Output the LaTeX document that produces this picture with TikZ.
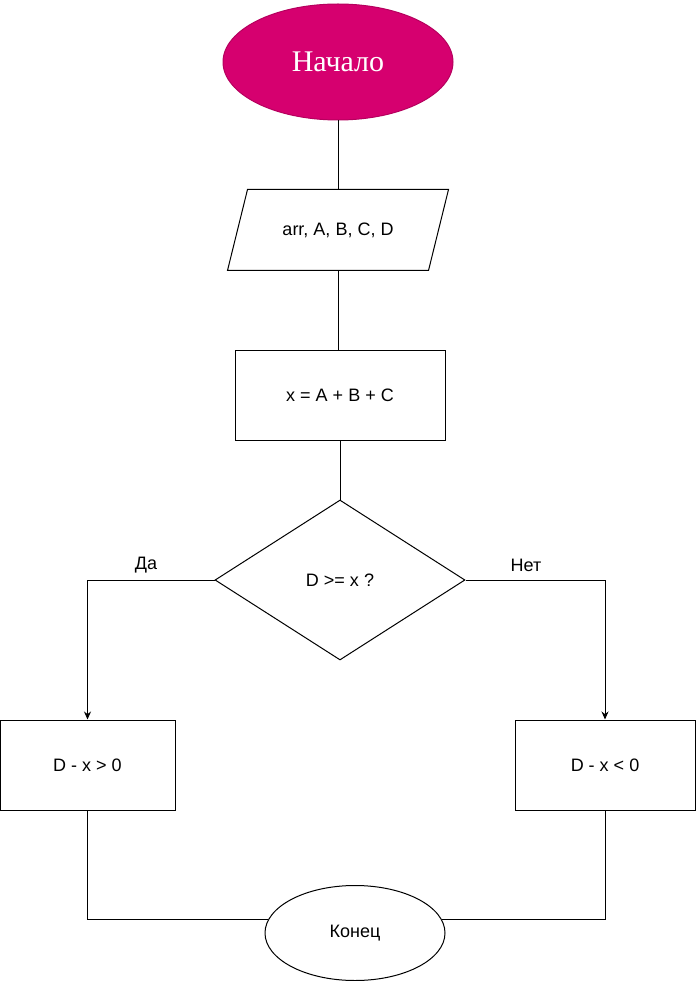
\documentclass[tikz,border=0pt]{standalone}
\usepackage{fontspec}
\setmainfont{Liberation Sans}
\newfontfamily\serifru{Liberation Serif}
\usetikzlibrary{shapes.geometric,arrows.meta}
\definecolor{startmag}{RGB}{214,0,111}
\tikzset{
  base/.style={line width=1pt, draw=black, inner sep=0pt, font=\fontsize{18}{21}\selectfont},
  termstart/.style={base, ellipse, fill=startmag, draw=startmag!85!black, text=white, font=\serifru\fontsize{30}{34}\selectfont},
  termend/.style={base, ellipse},
  procbox/.style={base, rectangle},
  decbox/.style={base, diamond, aspect=1.5625},
  conn/.style={line width=1pt, draw=black},
  arr/.style={conn, -{Stealth[length=8pt,width=7pt]}},
  lbl/.style={inner sep=0pt, font=\fontsize{18}{21}\selectfont}
}
\begin{document}
\begin{tikzpicture}[x=1pt,y=-1pt]
\useasboundingbox[fill=white] (0,0) rectangle (697,981);
\node[termstart, minimum width=230, minimum height=116] (start) at (338,62) {Начало};
\node[base, draw=none, rectangle, minimum width=220, minimum height=80] (io) at (338,230) {arr, A, B, C, D};
\draw[conn] ([xshift=20pt]io.north west) -- (io.north east) -- ([xshift=-20pt]io.south east) -- (io.south west) -- cycle;
\node[procbox, minimum width=210, minimum height=90] (calc) at (340,395) {x = A + B + C};
\node[decbox, minimum width=250, minimum height=160] (dec) at (340,580) {D >= x ?};
\node[procbox, minimum width=175, minimum height=90] (dxp) at (87.5,765) {D - x > 0};
\node[procbox, minimum width=180, minimum height=90] (dxn) at (605,765) {D - x < 0};
\node[termend, minimum width=180, minimum height=95] (fin) at (355,933) {Конец};
\node[lbl] (yes) at (146,565) {Да};
\node[lbl] (no) at (526,565) {Нет};
\draw[conn] (start) -- (io);
\draw[conn] (io.south) -- (io.south |- calc.north);
\draw[conn] (calc) -- (dec);
\draw[arr] (dec.west) -| (dxp.north);
\draw[arr] (dec.east) -| (dxn.north);
\draw[conn] (dxp.south) |- (fin.171);
\draw[conn] (dxn.south) |- (fin.9);
\end{tikzpicture}
\end{document}
